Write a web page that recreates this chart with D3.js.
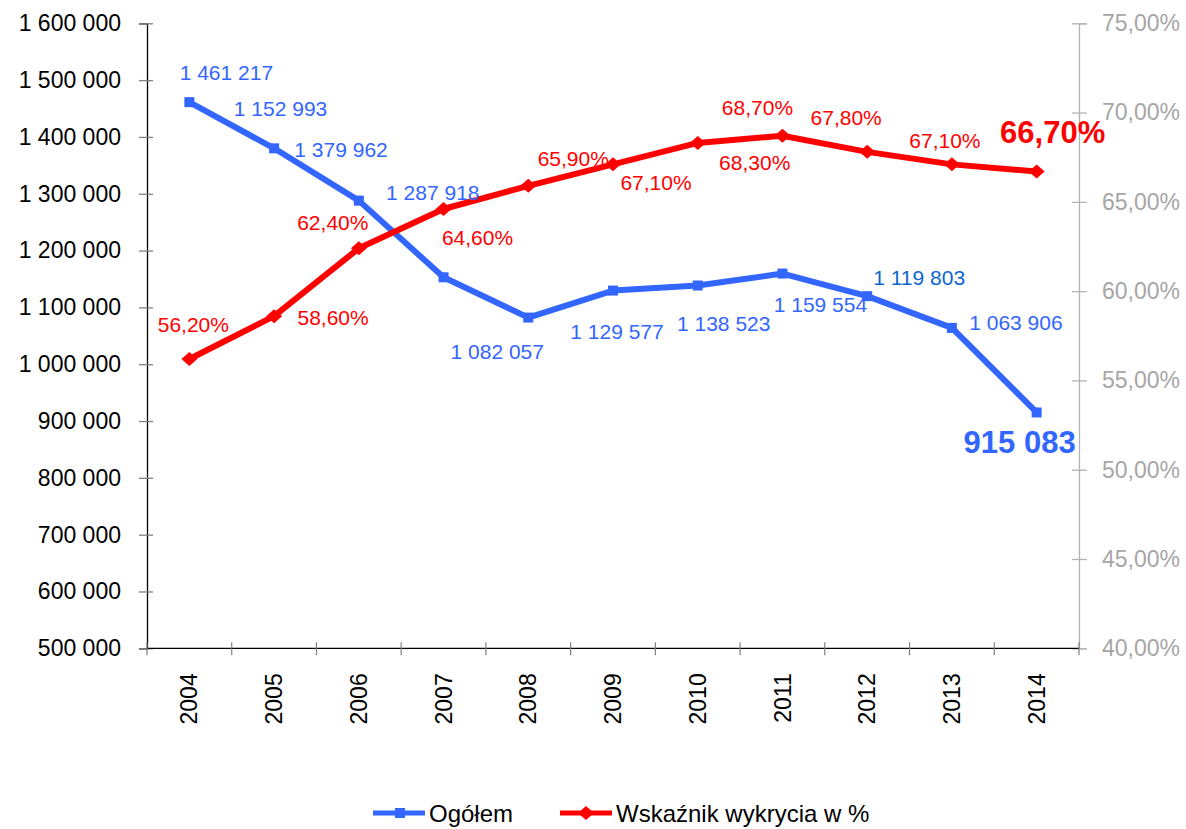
<!DOCTYPE html>
<html>
<head>
<meta charset="utf-8">
<script src="https://cdn.jsdelivr.net/npm/d3@7/dist/d3.min.js"></script>
<style>
  body { margin: 0; background: #fff; }
  svg text { font-family: "Liberation Sans", Arial, sans-serif; }
</style>
</head>
<body>
<div id="chart"></div>
<script>
// data
var years = ["2004", "2005", "2006", "2007", "2008", "2009", "2010", "2011", "2012", "2013", "2014"];
var ogolem = [1461217, 1379962, 1287918, 1152993, 1082057, 1129577, 1138523, 1159554, 1119803, 1063906, 915083];
var wykrycie = [56.2, 58.6, 62.4, 64.6, 65.9, 67.1, 68.3, 68.7, 67.8, 67.1, 66.7];
var leftTicks = [500000, 600000, 700000, 800000, 900000, 1000000, 1100000, 1200000, 1300000, 1400000, 1500000, 1600000];
var rightTicks = [40, 45, 50, 55, 60, 65, 70, 75];
var seriesNames = ["Ogółem", "Wskaźnik wykrycia w %"];

// label placement (offset from the point, px)
var blueOff = [[37,-30],[67,1],[74,-8],[-163,-169],[-31,34],[4,41],[26,38],[38,31],[52,-19],[64,-5],[-17,29]];
var redOff = [[4,-35],[59,1],[-26,-26],[34,28],[45,-27],[43,18],[57,19],[-25,-28],[-21,-34],[-7,-24],[16,-40]];

var W = 1186, H = 829;
var blue = "#3366ff", red = "#ff0000";

var pl = d3.formatLocale({decimal: ",", thousands: " ", grouping: [3], currency: ["", ""]});
var fmtN = pl.format(",d");
var fmtP = function(v) { return pl.format(".2f")(v) + "%"; };

var svg = d3.select("#chart").append("svg")
    .attr("width", W)
    .attr("height", H);

var x = d3.scaleBand().domain(years).range([147, 1079]).padding(0);
var yL = d3.scaleLinear().domain([500000, 1600000]).range([648.3, 23.3]);
var yR = d3.scaleLinear().domain([40, 75]).range([648.3, 23.3]);
var cx = function(i) { return x(years[i]) + x.bandwidth() / 2; };

// left axis
var gL = svg.append("g")
    .attr("transform", "translate(147,0)")
    .call(d3.axisLeft(yL).tickValues(leftTicks).tickFormat(fmtN).tickSize(8).tickPadding(18));
gL.select(".domain").attr("stroke", "#000").attr("stroke-width", 1.3);
gL.selectAll(".tick line").attr("x1", -8).attr("x2", 6).attr("stroke", "#808080").attr("stroke-width", 1.3);
gL.selectAll(".tick text").attr("font-size", 23).attr("fill", "#000");

// right axis
var gR = svg.append("g")
    .attr("transform", "translate(1079,0)")
    .call(d3.axisRight(yR).tickValues(rightTicks).tickFormat(fmtP).tickSize(8).tickPadding(15));
gR.select(".domain").attr("stroke", "#b3b3b3").attr("stroke-width", 1.3);
gR.selectAll(".tick line").attr("x1", -7).attr("x2", 8).attr("stroke", "#b3b3b3").attr("stroke-width", 1.3);
gR.selectAll(".tick text").attr("font-size", 23).attr("fill", "#a6a6a6");

// bottom axis
var gB = svg.append("g").attr("transform", "translate(0,648.3)");
gB.append("line").attr("x1", 147).attr("x2", 1079).attr("stroke", "#000").attr("stroke-width", 1.3);
gB.selectAll(".bt").data(years.concat(["end"])).enter().append("line")
    .attr("class", "bt")
    .attr("x1", function(d, i) { return i < years.length ? x(d) : 1079; })
    .attr("x2", function(d, i) { return i < years.length ? x(d) : 1079; })
    .attr("y1", -6).attr("y2", 7)
    .attr("stroke", "#808080").attr("stroke-width", 1.2);
gB.selectAll(".yl").data(years).enter().append("text")
    .attr("transform", function(d, i) { return "translate(" + cx(i) + ",25) rotate(-90)"; })
    .attr("text-anchor", "end")
    .attr("dy", "0.35em")
    .attr("font-size", 23)
    .text(function(d) { return d; });

// lines
var lineL = d3.line().x(function(d, i) { return cx(i); }).y(function(d) { return yL(d); });
var lineR = d3.line().x(function(d, i) { return cx(i); }).y(function(d) { return yR(d); });

svg.append("path").datum(ogolem)
    .attr("d", lineL).attr("fill", "none")
    .attr("stroke", blue).attr("stroke-width", 6).attr("stroke-linejoin", "round");
svg.selectAll(".sq").data(ogolem).enter().append("rect")
    .attr("x", function(d, i) { return cx(i) - 5; })
    .attr("y", function(d) { return yL(d) - 5; })
    .attr("width", 10).attr("height", 10)
    .attr("fill", blue);

svg.append("path").datum(wykrycie)
    .attr("d", lineR).attr("fill", "none")
    .attr("stroke", red).attr("stroke-width", 6).attr("stroke-linejoin", "round");
svg.selectAll(".dm").data(wykrycie).enter().append("path")
    .attr("d", "M-8,0L0,-7L8,0L0,7Z")
    .attr("transform", function(d, i) { return "translate(" + cx(i) + "," + yR(d) + ")"; })
    .attr("fill", red);

// value labels
var last = years.length - 1;
svg.selectAll(".bl").data(ogolem).enter().append("text")
    .attr("x", function(d, i) { return cx(i) + blueOff[i][0]; })
    .attr("y", function(d, i) { return yL(d) + blueOff[i][1]; })
    .attr("text-anchor", "middle")
    .attr("dy", "0.36em")
    .attr("font-size", function(d, i) { return i === last ? 31 : 21; })
    .attr("font-weight", function(d, i) { return i === last ? "bold" : "normal"; })
    .attr("fill", function(d, i) { return i === 8 ? "#0d66d0" : blue; })
    .text(function(d) { return fmtN(d); });

svg.selectAll(".rl").data(wykrycie).enter().append("text")
    .attr("x", function(d, i) { return cx(i) + redOff[i][0]; })
    .attr("y", function(d, i) { return yR(d) + redOff[i][1]; })
    .attr("text-anchor", "middle")
    .attr("dy", "0.36em")
    .attr("font-size", function(d, i) { return i === last ? 31 : 21; })
    .attr("font-weight", function(d, i) { return i === last ? "bold" : "normal"; })
    .attr("fill", red)
    .text(function(d) { return fmtP(d); });

// legend
var leg = svg.append("g").attr("transform", "translate(0,813)");
leg.append("line").attr("x1", 373).attr("x2", 425).attr("stroke", blue).attr("stroke-width", 5);
leg.append("rect").attr("x", 395).attr("y", -5).attr("width", 10).attr("height", 10).attr("fill", blue);
leg.append("text").attr("x", 429).attr("dy", "0.36em").attr("font-size", 24).text(seriesNames[0]);
leg.append("line").attr("x1", 560).attr("x2", 612).attr("stroke", red).attr("stroke-width", 5);
leg.append("path").attr("d", "M-8,0L0,-7L8,0L0,7Z").attr("transform", "translate(586,0)").attr("fill", red);
leg.append("text").attr("x", 616).attr("dy", "0.36em").attr("font-size", 24).text(seriesNames[1]);
</script>
</body>
</html>
